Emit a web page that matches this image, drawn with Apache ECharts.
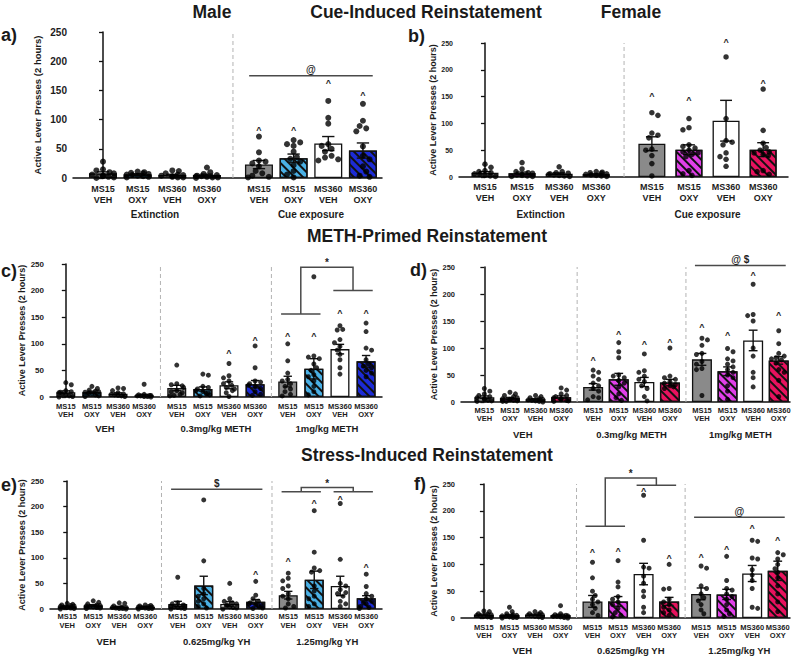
<!DOCTYPE html>
<html><head><meta charset="utf-8">
<script src="https://cdn.jsdelivr.net/npm/echarts@6/dist/echarts.min.js"></script>
<style>html,body{margin:0;padding:0;background:#fff}#c{width:797px;height:657px}</style>
</head><body><div id="c"></div>
<script>
// ---------------- DATA ----------------
const categories = ['MS15\nVEH', 'MS15\nOXY', 'MS360\nVEH', 'MS360\nOXY'];
const groupsCue = ['Extinction', 'Cue exposure'];
const groupsMeth = ['VEH', '0.3mg/kg METH', '1mg/kg METH'];
const groupsStress = ['VEH', '0.625mg/kg YH', '1.25mg/kg YH'];
const yTicks = [0, 50, 100, 150, 200, 250];
const yTitle = 'Active Lever Presses (2 hours)';

// a) Male cue
const meansA = [8, 6, 5, 5, 23, 34, 59, 47];
const semA = [2.5, 1.2, 1.3, 1.6, 7, 7, 12, 13];
const dotsA = [
  [28,15,13,10,8,6,4,3,2,1,0], [11,10,9,8,7,6,5,4,3,2,1], [13,12,8,6,5,4,3,2,1,1], [18,10,7,5,4,3,3,2,1,1,0],
  [71,44,30,28,25,20,12,8,4,2,1], [65,61,58,55,45,36,33,28,22,12,6,1],
  [132,103,93,58,55,50,45,38,35,32,30], [127,98,89,85,80,54,38,32,20,11,4,2]
];
const caretA = [null,null,null,null,86,86,166,146];

// b) Female cue
const meansB = [8, 7, 6, 5, 62, 51, 105, 51];
const semB = [2, 2.2, 1.6, 1, 13, 9, 38, 13];
const dotsB = [
  [24,18,12,10,8,6,5,3,2,1], [27,15,10,8,7,5,4,3,2,1,1], [19,10,8,7,6,5,4,3,2,1], [10,9,8,7,6,5,4,3,2,1],
  [120,115,82,78,73,52,50,40,25,2], [109,92,88,60,57,54,50,47,45,42,38,12,6,3],
  [224,109,68,65,60,45,38,33,20], [164,87,63,55,50,47,45,42,40,12,10,5]
];
const caretB = [null,null,null,null,154,147,256,179];

// c) Male METH
const meansC = [9, 9, 6, 3, 17, 15, 22, 24, 29, 53, 90, 67];
const semC = [2.5, 2, 1.8, 2, 5, 4, 6.5, 7, 10, 19, 9, 11];
const dotsC = [
  [27,23,12,10,9,8,6,4,2,1,0], [20,16,13,11,10,9,7,6,4,2,1], [17,16,12,8,6,5,4,3,2,1], [24,5,4,3,3,2,2,1,1,0],
  [60,25,23,21,18,12,10,8,5,3,2], [43,41,20,18,15,12,10,8,6,4,2], [63,40,36,30,25,22,18,15,12,8,1], [96,55,30,28,25,22,20,16,10,5,3],
  [100,68,45,33,30,25,20,15,10,5,2], [226,77,75,72,62,55,50,42,38,30,20,10,4],
  [134,127,126,108,102,95,88,80,70,55,43], [139,123,92,88,70,62,58,55,50,45,38]
];
const caretC = [null,null,null,null,null,null,86,110,118,118,162,162];

// d) Female METH
const meansD = [9, 7, 5, 9, 28, 42, 37, 36, 79, 57, 114, 77];
const semD = [2.2, 1.5, 1.2, 2.3, 6, 11, 8.5, 6, 11, 8, 19, 7];
const dotsD = [
  [25,20,15,12,10,8,6,5,3,2,1], [18,15,12,10,8,6,5,4,3,2,1,1], [12,10,8,6,5,4,3,2,1,0], [26,22,15,12,10,8,6,4,3,2,1],
  [59,55,48,42,35,30,25,20,10,8,4], [110,93,82,50,48,45,40,35,28,15,8,3], [89,58,55,48,42,38,30,25,10,2], [100,48,45,42,38,35,32,30,28,25],
  [118,115,105,90,88,75,70,62,60,12], [99,93,80,76,70,65,60,55,50,45,30,20,5],
  [218,162,160,150,100,85,55,45,28], [132,108,90,85,82,80,78,72,60,55,40,10]
];
const caretD = [null,null,null,null,81,130,112,115,143,127,239,164];

// e) Male stress
const meansE = [5, 7, 4, 4, 10, 46, 10, 14, 27, 57, 45, 21];
const semE = [1, 1.5, 1.2, 0.8, 5, 18, 4.5, 4.5, 7.5, 17, 19, 5];
const dotsE = [
  [11,9,8,7,6,5,4,3,2,1,0], [16,13,10,8,7,6,5,4,3,2,1], [12,11,6,4,3,3,2,1,1,0], [8,7,6,5,4,4,3,2,1,1,0],
  [62,12,10,8,6,5,4,3,2,1,0], [213,94,40,30,25,20,15,10,5,2], [50,20,15,12,10,8,6,4,3,2,0], [54,27,20,15,12,10,8,6,4,2,1],
  [70,60,55,45,40,30,25,20,10,5,2], [192,111,80,75,72,45,35,25,20,10,5],
  [206,97,50,45,38,32,30,25,15,10,5], [68,44,30,25,20,15,12,10,5,3,1]
];
const caretE = [null,null,null,null,null,null,null,73,97,211,219,86];

// f) Female stress
const meansF = [6, 5, 6, 5, 31, 31, 82, 31, 45, 44, 83, 88];
const semF = [1.3, 1.8, 1.1, 2, 11, 9, 20, 7.5, 11, 9.5, 15, 18];
const dotsF = [
  [13,12,8,7,6,5,4,3,2,1], [20,12,8,6,5,4,3,2,1,1,0], [12,10,8,7,6,5,4,3,2,1], [23,8,6,5,4,3,3,2,1,0],
  [104,75,50,42,35,30,25,18,10,5], [107,67,58,40,35,30,25,18,10,5,2], [229,145,95,93,78,65,50,40,20,10], [100,55,54,35,30,25,20,15,10,5],
  [97,93,60,55,45,38,32,25,15,8], [115,70,55,52,45,40,35,25,15,8,3],
  [145,143,112,110,90,80,70,55,20,18], [122,118,110,100,92,85,75,60,45,30,12]
];
const caretF = [null,null,null,null,127,129,241,116,118,132,171,149];

// significance annotations (bar indices, y in axis units)
const sigA = {lines: [{from:4, to:7, y:175, text:'@', ty:185}], brackets: []};
const sigB = {lines: [], brackets: []};
const sigC = {lines: [], brackets: [{l:[8,9,156], r:[10,11,200], top:244, text:'*', ty:252}]};
const sigD = {lines: [{from:8, to:11, y:253, text:'@ $', ty:263}], brackets: []};
const sigE = {lines: [{from:4, to:7, y:234, text:'$', ty:245}], brackets: [{l:[8,9,229], r:[10,11,229], top:237.5, text:'*', ty:246}]};
const sigF = {lines: [{from:8, to:11, y:188, text:'@', ty:199}], brackets: [{l:[4,5,171], r:[6,7,247.5], top:261, text:'*', ty:270}]};

// ---------------- STYLE / LAYOUT ----------------
const FF = '"Liberation Sans", Arial, Helvetica, sans-serif';
const TXT = '#1c1c1c';
const maleColors = ['#8a8a8a', '#4ab0e5', '#ffffff', '#1c2bd6'];
const femaleColors = ['#8a8a8a', '#e040e8', '#ffffff', '#e8125e'];
const hatched = [false, true, false, true];

const panels = [
  {means:meansA, sem:semA, dots:dotsA, caret:caretA, sig:sigA, groups:groupsCue, colors:maleColors,
   grid:{left:73, top:32, width:309, height:146}, min:-0.865, max:8.05, gap:1.5, barW:28, dot:6,
   catFont:9, catLH:11, catMargin:5, tickFont:10, nameGap:31, nameFont:9.5, grpOffset:31, grpFont:10},
  {means:meansB, sem:semB, dots:dotsB, caret:caretB, sig:sigB, groups:groupsCue, colors:femaleColors,
   grid:{left:459, top:43, width:329, height:134}, min:-0.70, max:8.17, gap:1.5, barW:27, dot:5.5,
   catFont:9, catLH:11, catMargin:4, tickFont:7, nameGap:21, nameFont:9, grpOffset:32, grpFont:10},
  {means:meansC, sem:semC, dots:dotsC, caret:caretC, sig:sigC, groups:groupsMeth, colors:maleColors,
   grid:{left:50, top:264, width:332, height:133}, min:-0.605, max:12.11, gap:1.25, barW:19, dot:5,
   catFont:7.5, catLH:8.5, catMargin:5, tickFont:8, nameGap:18, nameFont:9, grpOffset:26, grpFont:9.5},
  {means:meansD, sem:semD, dots:dotsD, caret:caretD, sig:sigD, groups:groupsMeth, colors:femaleColors,
   grid:{left:461, top:267, width:329, height:135}, min:-0.912, max:11.94, gap:1.25, barW:20, dot:5,
   catFont:7.5, catLH:8.5, catMargin:4, tickFont:7.5, nameGap:17, nameFont:9, grpOffset:27, grpFont:9.5},
  {means:meansE, sem:semE, dots:dotsE, caret:caretE, sig:sigE, groups:groupsStress, colors:maleColors,
   grid:{left:50, top:481, width:332, height:128}, min:-0.663, max:12.106, gap:1.25, barW:19, dot:5,
   catFont:7.5, catLH:8.5, catMargin:3.5, tickFont:8, nameGap:19, nameFont:9, grpOffset:27, grpFont:9.5},
  {means:meansF, sem:semF, dots:dotsF, caret:caretF, sig:sigF, groups:groupsStress, colors:femaleColors,
   grid:{left:461, top:484, width:329, height:134}, min:-0.896, max:11.98, gap:1.25, barW:20, dot:5,
   catFont:7.5, catLH:8.5, catMargin:5, tickFont:7.5, nameGap:18, nameFont:9, grpOffset:27, grpFont:9.5}
];

const decal = {symbol:'rect', symbolSize:1, color:'#111111', dashArrayX:[1,0], dashArrayY:[2,4], rotation:Math.PI/4};

function swarm(vals, pxPerVal, d, maxOff) {
  const placed = [], out = new Array(vals.length);
  const order = vals.map((v, i) => i).sort((a, b) => vals[b] - vals[a]);
  order.forEach((idx, k) => {
    const y = vals[idx] * pxPerVal, step = d * 0.55, sgn = k % 2 ? 1 : -1;
    let best = null;
    for (let j = 0; j <= Math.ceil(maxOff / step) && best === null; j++) {
      const cands = j === 0 ? [0] : [sgn * j * step, -sgn * j * step];
      for (const c of cands) {
        if (Math.abs(c) > maxOff) continue;
        if (placed.every(p => Math.hypot(p.x - c, p.y - y) >= d * 0.9)) { best = c; break; }
      }
    }
    if (best === null) best = ((k % 5) - 2) * maxOff / 2.2;
    placed.push({x: best, y});
    out[idx] = best;
  });
  return out;
}

const option = {animation:false, backgroundColor:'#fff', grid:[], xAxis:[], yAxis:[], series:[], graphic:[]};

panels.forEach((P, p) => {
  const n = P.means.length, nG = n / 4;
  const pos = k => Math.floor(k / 4) * (3 + P.gap) + (k % 4);
  const barPos = P.means.map((m, k) => pos(k));
  const grpPos = P.groups.map((g, i) => i * (3 + P.gap) + 1.5);
  const pxU = P.grid.width / (P.max - P.min);
  const pxV = P.grid.height / 250;
  option.grid.push(Object.assign({containLabel:false}, P.grid));
  option.xAxis.push({
    gridIndex:p, type:'value', min:P.min, max:P.max,
    axisLine:{show:true, onZero:false, lineStyle:{color:'#111', width:1.5}},
    axisTick:{show:false}, splitLine:{show:false},
    axisLabel:{customValues:barPos, margin:P.catMargin, fontSize:P.catFont, lineHeight:P.catLH, fontWeight:'bold', fontFamily:FF, color:TXT,
      formatter: v => { const k = barPos.findIndex(b => Math.abs(b - v) < 1e-6); return k >= 0 ? categories[k % 4] : ''; }}
  });
  option.xAxis.push({
    gridIndex:p, type:'value', min:P.min, max:P.max, position:'bottom', offset:P.grpOffset,
    axisLine:{show:false}, axisTick:{show:false}, splitLine:{show:false},
    axisLabel:{customValues:grpPos, margin:0, fontSize:P.grpFont, fontWeight:'bold', fontFamily:FF, color:TXT,
      formatter: v => { const k = grpPos.findIndex(b => Math.abs(b - v) < 1e-6); return k >= 0 ? P.groups[k] : ''; }}
  });
  option.yAxis.push({
    gridIndex:p, type:'value', min:yTicks[0], max:yTicks[yTicks.length - 1], interval:yTicks[1] - yTicks[0],
    axisLine:{show:true, lineStyle:{color:'#111', width:1.5}},
    axisTick:{show:true, length:4, lineStyle:{color:'#111', width:1.3}},
    axisLabel:{fontSize:P.tickFont, fontWeight:'bold', fontFamily:FF, color:TXT, margin:6},
    splitLine:{show:false},
    name:yTitle, nameLocation:'middle', nameGap:P.nameGap,
    nameTextStyle:{fontSize:P.nameFont, fontWeight:'bold', fontFamily:FF, color:TXT}
  });
  const xi = 2 * p;
  // bars
  option.series.push({
    type:'bar', xAxisIndex:xi, yAxisIndex:p, barWidth:P.barW, z:2,
    data: P.means.map((m, k) => ({
      value:[barPos[k], m],
      itemStyle:Object.assign({color:P.colors[k % 4], borderColor:'#111', borderWidth:1.3}, hatched[k % 4] ? {decal:decal} : {})
    }))
  });
  // error bars
  const capHalf = P.barW * 0.22;
  option.series.push({
    type:'custom', xAxisIndex:xi, yAxisIndex:p, z:3,
    encode:{x:0, y:[1, 2]},
    data: P.means.map((m, k) => [barPos[k], m - P.sem[k], m + P.sem[k]]),
    renderItem: (params, api) => {
      const x = api.value(0);
      const lo = api.coord([x, api.value(1)]), hi = api.coord([x, api.value(2)]);
      const st = {stroke:'#111', lineWidth:1.4};
      return {type:'group', children:[
        {type:'line', shape:{x1:lo[0], y1:lo[1], x2:hi[0], y2:hi[1]}, style:st},
        {type:'line', shape:{x1:hi[0] - capHalf, y1:hi[1], x2:hi[0] + capHalf, y2:hi[1]}, style:st},
        {type:'line', shape:{x1:lo[0] - capHalf, y1:lo[1], x2:lo[0] + capHalf, y2:lo[1]}, style:st}
      ]};
    }
  });
  // dots
  const pts = [];
  P.dots.forEach((arr, k) => {
    const offs = swarm(arr, pxV, P.dot, P.barW / 2 - 2);
    arr.forEach((v, i) => pts.push([barPos[k] + offs[i] / pxU, v]));
  });
  option.series.push({
    type:'scatter', xAxisIndex:xi, yAxisIndex:p, z:4, symbol:'circle', symbolSize:P.dot,
    itemStyle:{color:'#000'}, data:pts
  });
  // annotations
  const ann = [];
  for (let g = 1; g < nG; g++) ann.push({t:'sep', x: g * (3 + P.gap) - P.gap / 2});
  P.caret.forEach((c, k) => { if (c !== null) ann.push({t:'caret', x:barPos[k], y:c}); });
  const ext = 0.35 * P.barW / pxU;
  P.sig.lines.forEach(L => ann.push({t:'line', x1:barPos[L.from] - ext, x2:barPos[L.to] + ext, y:L.y, text:L.text, ty:L.ty}));
  P.sig.brackets.forEach(B => ann.push({t:'bracket',
    l:[barPos[B.l[0]] - ext, barPos[B.l[1]] + ext, B.l[2]], r:[barPos[B.r[0]] - ext, barPos[B.r[1]] + ext, B.r[2]],
    top:B.top, text:B.text, ty:B.ty}));
  option.series.push({
    type:'custom', xAxisIndex:xi, yAxisIndex:p, z:5, clip:false,
    encode:{x:0, y:1},
    data: ann.map(a => [a.x !== undefined ? a.x : a.x1 || 0, a.y !== undefined ? a.y : 0]),
    renderItem: (params, api) => {
      const a = ann[params.dataIndex];
      const C = (x, y) => api.coord([x, y]);
      const gray = {stroke:'#4a4a4a', lineWidth:1.5, fill:null};
      const txt = (s, x, y, size) => ({type:'text', style:{text:s, x:x, y:y, align:'center', verticalAlign:'middle', textAlign:'center', textVerticalAlign:'middle',
        font:'bold ' + size + 'px ' + FF, fill:'#222'}});
      if (a.t === 'sep') {
        const p0 = C(a.x, 0), p1 = C(a.x, 250);
        return {type:'line', shape:{x1:p0[0], y1:p0[1], x2:p1[0], y2:p1[1]}, style:{stroke:'#b3b3b3', lineWidth:1, lineDash:[4, 3]}};
      }
      if (a.t === 'caret') { const q = C(a.x, a.y); return txt('^', q[0], q[1] + 2, 9); }
      if (a.t === 'line') {
        const p0 = C(a.x1, a.y), p1 = C(a.x2, a.y), q = C((a.x1 + a.x2) / 2, a.ty);
        return {type:'group', children:[{type:'line', shape:{x1:p0[0], y1:p0[1], x2:p1[0], y2:p1[1]}, style:gray}, txt(a.text, q[0], q[1], 10)]};
      }
      if (a.t === 'bracket') {
        const lm = (a.l[0] + a.l[1]) / 2, rm = (a.r[0] + a.r[1]) / 2;
        const L0 = C(a.l[0], a.l[2]), L1 = C(a.l[1], a.l[2]), R0 = C(a.r[0], a.r[2]), R1 = C(a.r[1], a.r[2]);
        const pts2 = [C(lm, a.l[2]), C(lm, a.top), C(rm, a.top), C(rm, a.r[2])];
        const q = C((lm + rm) / 2, a.ty);
        return {type:'group', children:[
          {type:'line', shape:{x1:L0[0], y1:L0[1], x2:L1[0], y2:L1[1]}, style:gray},
          {type:'line', shape:{x1:R0[0], y1:R0[1], x2:R1[0], y2:R1[1]}, style:gray},
          {type:'polyline', shape:{points:pts2}, style:gray},
          txt(a.text, q[0], q[1], 10)
        ]};
      }
      return null;
    }
  });
});

// titles and panel letters
const titleFont = 'bold 17.5px ' + FF;
const letterFont = 'bold 18px ' + FF;
const texts = [
  ['Male', 212, 12, titleFont, 'center'], ['Cue-Induced Reinstatement', 426, 12, titleFont, 'center'], ['Female', 631, 12, titleFont, 'center'],
  ['METH-Primed Reinstatement', 427, 236, titleFont, 'center'], ['Stress-Induced Reinstatement', 427, 455, titleFont, 'center'],
  ['a)', 1, 35, letterFont, 'left'], ['b)', 408, 36, letterFont, 'left'], ['c)', 1, 271, letterFont, 'left'],
  ['d)', 410, 270, letterFont, 'left'], ['e)', 1, 485, letterFont, 'left'], ['f)', 414, 484, letterFont, 'left']
];
texts.forEach(t => option.graphic.push({type:'text', x:t[1], y:t[2], style:{text:t[0], font:t[3], fill:'#1a1a1a',
  textAlign:t[4], textVerticalAlign:'middle', align:t[4], verticalAlign:'middle'}}));

const chart = echarts.init(document.getElementById('c'), null, {renderer:'svg', width:797, height:657});
chart.setOption(option);
</script></body></html>
